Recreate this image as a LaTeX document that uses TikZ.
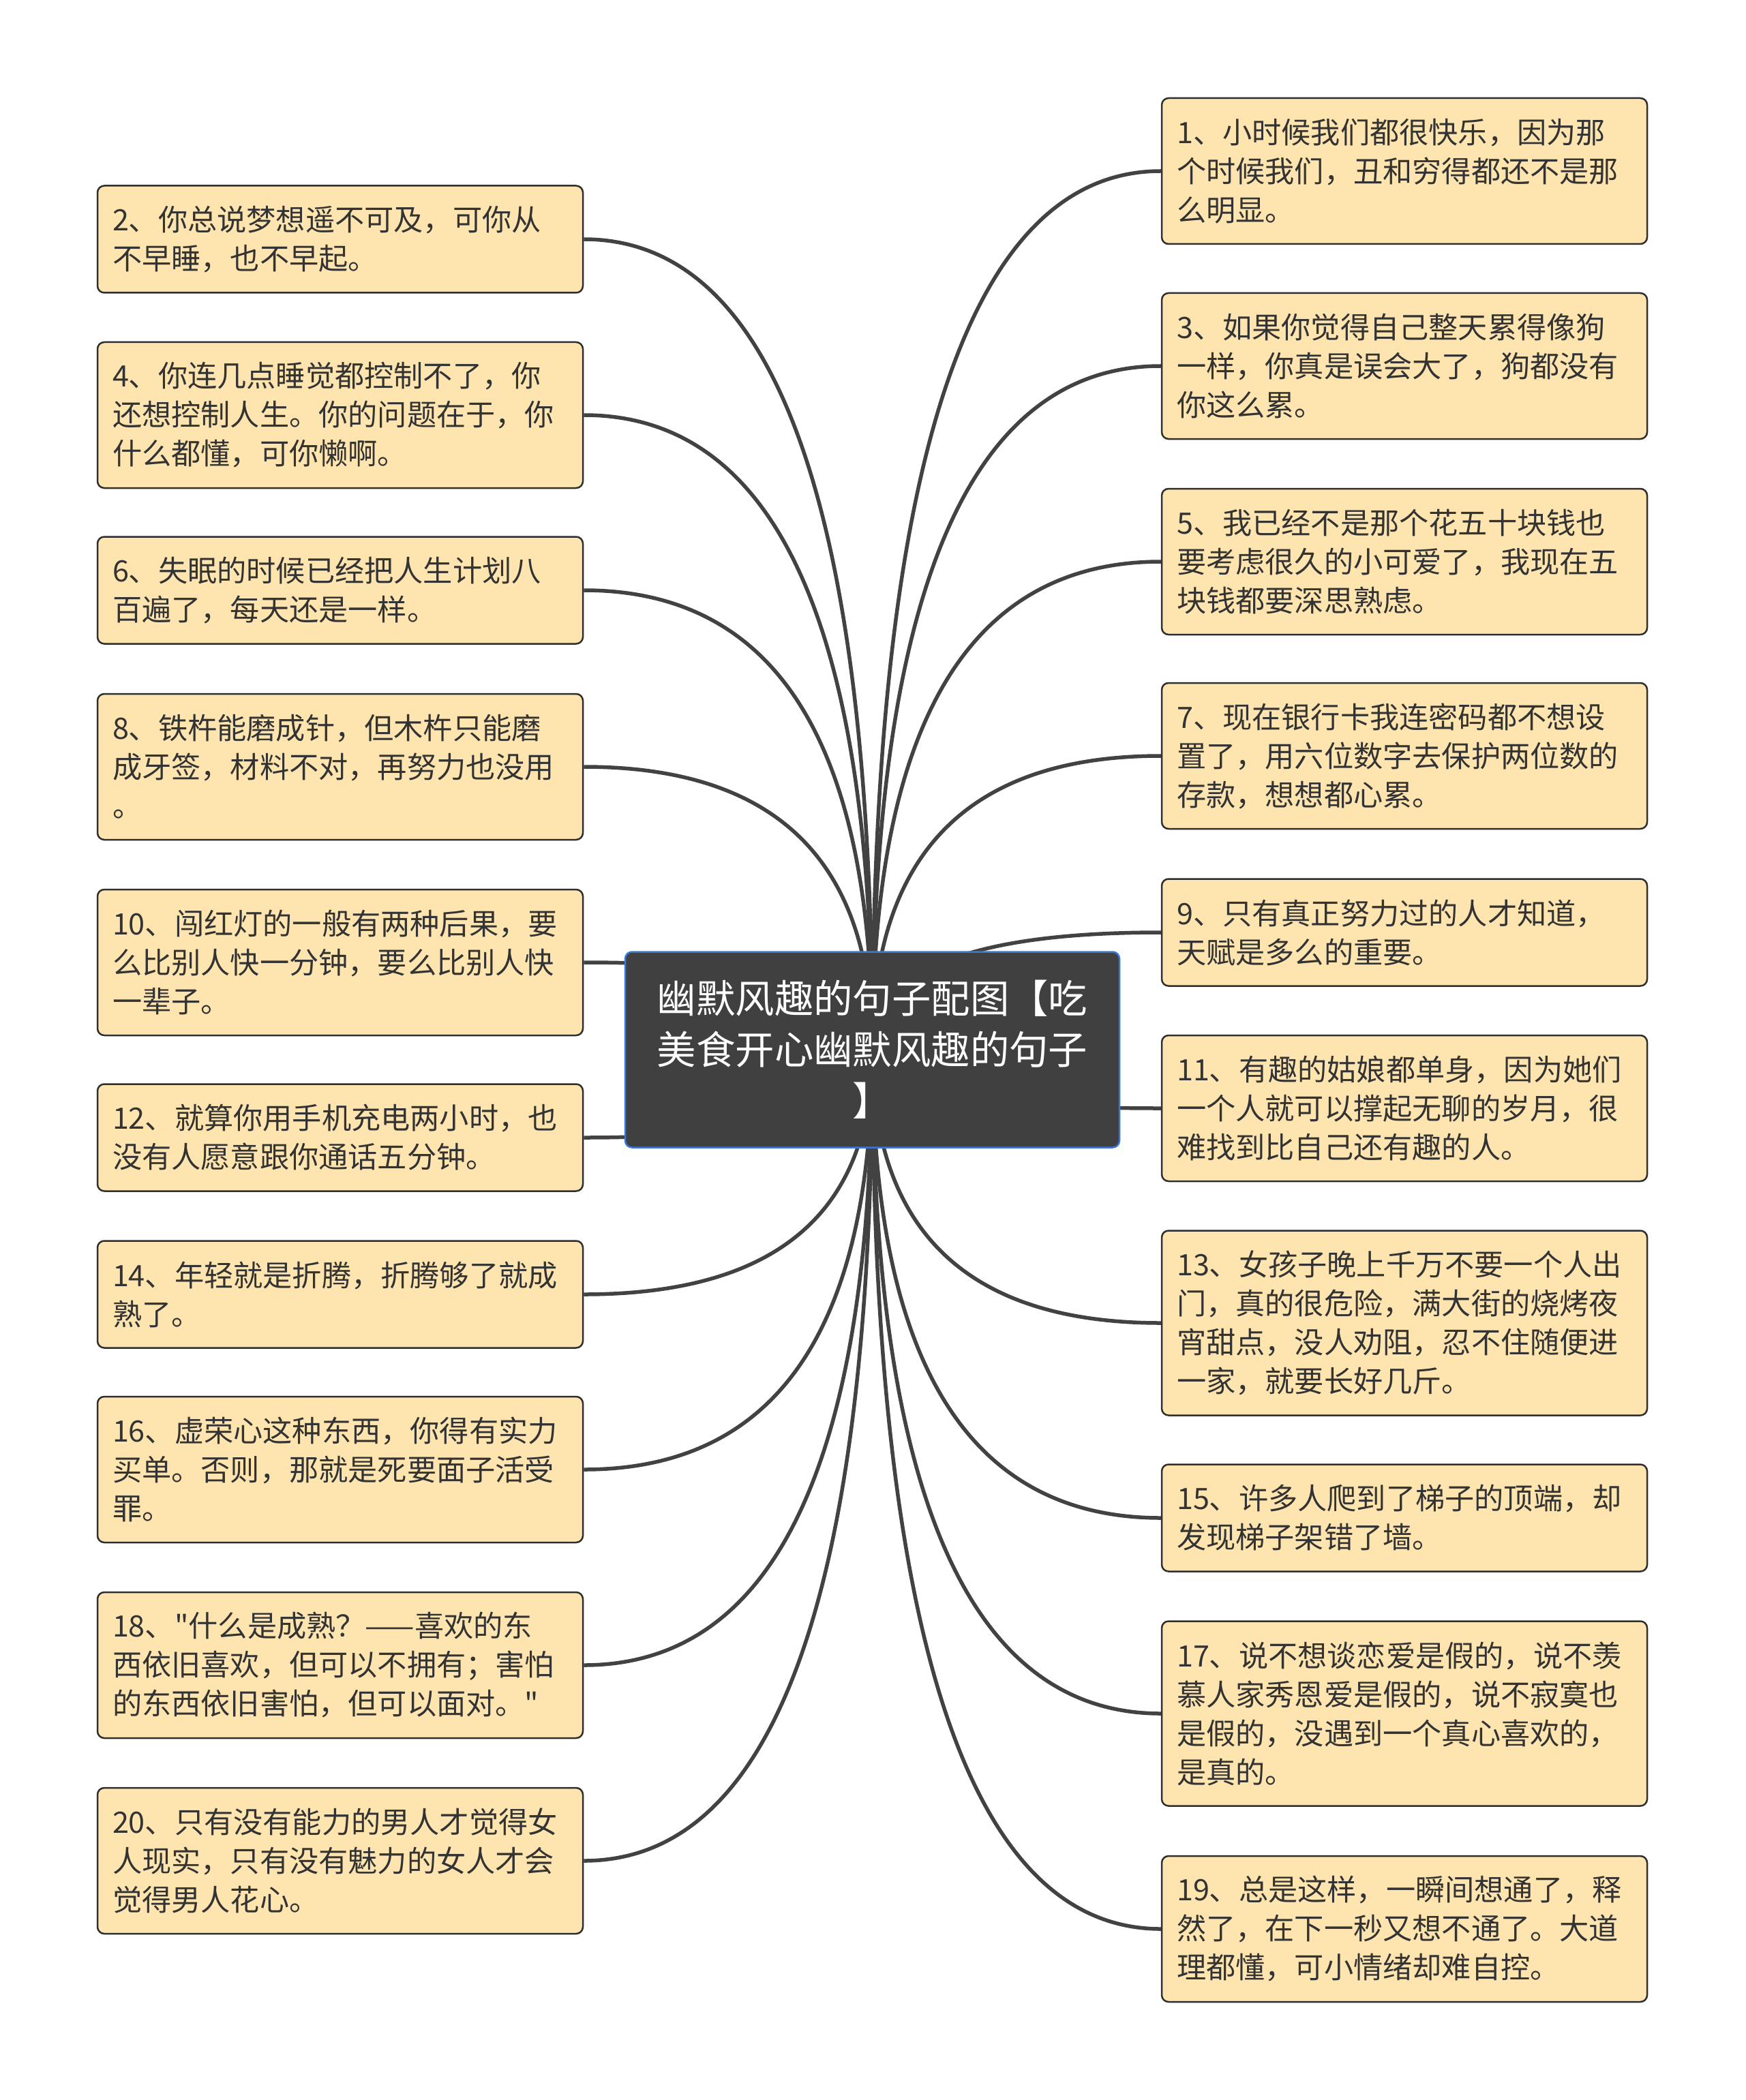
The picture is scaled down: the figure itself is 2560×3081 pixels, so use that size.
\documentclass[tikz,border=0pt]{standalone}
\usepackage{fontspec}
\setmainfont{Noto Sans CJK SC}[Ligatures=TeXOff]
\usetikzlibrary{calc}
\pgfdeclarelayer{bg}
\pgfsetlayers{bg,main}
\definecolor{boxfill}{HTML}{FEE5B0}
\definecolor{boxdraw}{HTML}{2F2F2F}
\definecolor{txt}{HTML}{333333}
\definecolor{rootfill}{HTML}{404040}
\definecolor{rootdraw}{HTML}{3B78D6}
\definecolor{linkc}{HTML}{424242}
\begin{document}
\begin{tikzpicture}[x=0.5pt,y=-0.5pt,
  leaf/.style={draw=boxdraw, line width=1.25pt, fill=boxfill, rounded corners=5pt,
    text width=334pt, inner xsep=11pt, inner ysep=0pt, align=left, text=txt,
    font=\fontsize{21.6pt}{28.5pt}\selectfont},
  two/.style={leaf, minimum height=78.5pt},
  three/.style={leaf, minimum height=107pt},
  four/.style={leaf, minimum height=135.5pt},
  root/.style={draw=rootdraw, line width=1.25pt, fill=rootfill, rounded corners=5pt,
    text width=330pt, inner xsep=16.25pt, inner ysep=0pt, minimum height=143.5pt,
    align=center, text=white, font=\fontsize{28.7pt}{37.5pt}\selectfont},
  link/.style={draw=linkc, line width=2.75pt}]
\useasboundingbox (0,0) rectangle (2560,3081);

\node[root] (root) at (1279.5,1540) {幽默风趣的句子配图【吃\\美食开心幽默风趣的句子\\】};

% left column
\node[two]   (l2)  at (499,351)  {2、你总说梦想遥不可及，可你从\\不早睡，也不早起。};
\node[three] (l4)  at (499,609)  {4、你连几点睡觉都控制不了，你\\还想控制人生。你的问题在于，你\\什么都懂，可你懒啊。};
\node[two]   (l6)  at (499,866)  {6、失眠的时候已经把人生计划八\\百遍了，每天还是一样。};
\node[three] (l8)  at (499,1125) {8、铁杵能磨成针，但木杵只能磨\\成牙签，材料不对，再努力也没用\\。};
\node[three] (l10) at (499,1412) {10、闯红灯的一般有两种后果，要\\么比别人快一分钟，要么比别人快\\一辈子。};
\node[two]   (l12) at (499,1669) {12、就算你用手机充电两小时，也\\没有人愿意跟你通话五分钟。};
\node[two]   (l14) at (499,1899) {14、年轻就是折腾，折腾够了就成\\熟了。};
\node[three] (l16) at (499,2156) {16、虚荣心这种东西，你得有实力\\买单。否则，那就是死要面子活受\\罪。};
\node[three] (l18) at (499,2443) {18、"什么是成熟？——喜欢的东\\西依旧喜欢，但可以不拥有；害怕\\的东西依旧害怕，但可以面对。"};
\node[three] (l20) at (499,2730) {20、只有没有能力的男人才觉得女\\人现实，只有没有魅力的女人才会\\觉得男人花心。};

% right column
\node[three] (r1)  at (2060,251)  {1、小时候我们都很快乐，因为那\\个时候我们，丑和穷得都还不是那\\么明显。};
\node[three] (r3)  at (2060,537)  {3、如果你觉得自己整天累得像狗\\一样，你真是误会大了，狗都没有\\你这么累。};
\node[three] (r5)  at (2060,824)  {5、我已经不是那个花五十块钱也\\要考虑很久的小可爱了，我现在五\\块钱都要深思熟虑。};
\node[three] (r7)  at (2060,1109) {7、现在银行卡我连密码都不想设\\置了，用六位数字去保护两位数的\\存款，想想都心累。};
\node[two]   (r9)  at (2060,1368) {9、只有真正努力过的人才知道，\\天赋是多么的重要。};
\node[three] (r11) at (2060,1626) {11、有趣的姑娘都单身，因为她们\\一个人就可以撑起无聊的岁月，很\\难找到比自己还有趣的人。};
\node[four]  (r13) at (2060,1941) {13、女孩子晚上千万不要一个人出\\门，真的很危险，满大街的烧烤夜\\宵甜点，没人劝阻，忍不住随便进\\一家，就要长好几斤。};
\node[two]   (r15) at (2060,2227) {15、许多人爬到了梯子的顶端，却\\发现梯子架错了墙。};
\node[four]  (r17) at (2060,2514) {17、说不想谈恋爱是假的，说不羡\\慕人家秀恩爱是假的，说不寂寞也\\是假的，没遇到一个真心喜欢的，\\是真的。};
\node[three] (r19) at (2060,2830) {19、总是这样，一瞬间想通了，释\\然了，在下一秒又想不通了。大道\\理都懂，可小情绪却难自控。};

\begin{pgfonlayer}{bg}
\fill[white] (0,0) rectangle (2560,3081);
\foreach \n in {l2,l4,l6,l8,l10,l12,l14,l16,l18,l20}
  \draw[link] (root.center)
    .. controls ($(root.center)!0.6667!(root.center |- \n.east)$)
            and ($(\n.east)!0.6667!(root.center |- \n.east)$) .. (\n.east);
\foreach \n in {r1,r3,r5,r7,r9,r11,r13,r15,r17,r19}
  \draw[link] (root.center)
    .. controls ($(root.center)!0.6667!(root.center |- \n.west)$)
            and ($(\n.west)!0.6667!(root.center |- \n.west)$) .. (\n.west);
\end{pgfonlayer}
\end{tikzpicture}
\end{document}
